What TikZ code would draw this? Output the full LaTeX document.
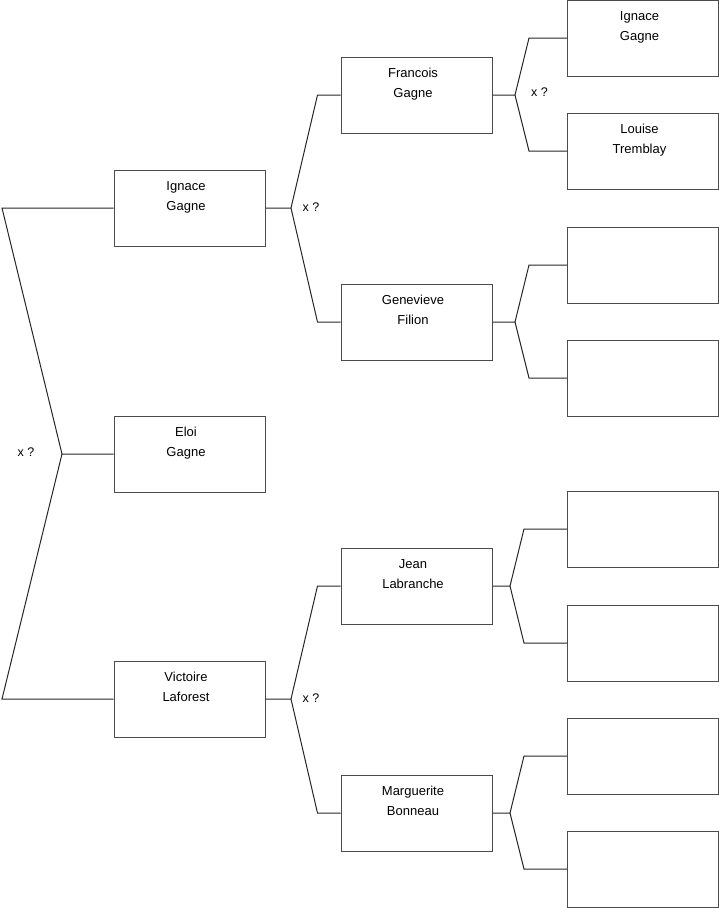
\documentclass[tikz,border=0pt]{standalone}
\usepackage{fontspec}
\setmainfont{Liberation Sans}
\newcommand\boxtext[2]{\parbox[c][76pt][t]{151pt}{\centering\vspace*{6.8pt}\hspace*{-7pt}\strut #1\\\hspace*{-7pt}\strut #2}}
\begin{document}
\begin{tikzpicture}[x=1pt,y=-1pt,
  box/.style={draw=black!70, line width=1pt, minimum width=151pt, minimum height=76pt, inner sep=0pt, fill=white,
    font=\fontsize{13}{20}\selectfont},
  conn/.style={draw=black!85, line width=1pt},
  qlab/.style={font=\fontsize{12.5}{14}\selectfont, inner sep=0pt}]
\useasboundingbox (0,0) rectangle (719,908);
% level 1
\node[box] (ig) at (189.5,208) {\boxtext{Ignace}{Gagne}};
\node[box] (el) at (189.5,454) {\boxtext{Eloi}{Gagne}};
\node[box] (vi) at (189.5,699) {\boxtext{Victoire}{Laforest}};
% level 2
\node[box] (fr) at (416.5,95) {\boxtext{Francois}{Gagne}};
\node[box] (ge) at (416.5,322) {\boxtext{Genevieve}{Filion}};
\node[box] (je) at (416.5,586) {\boxtext{Jean}{Labranche}};
\node[box] (ma) at (416.5,813) {\boxtext{Marguerite}{Bonneau}};
% level 3
\node[box] (a1) at (643,38) {\boxtext{Ignace}{Gagne}};
\node[box] (a2) at (643,151) {\boxtext{Louise}{Tremblay}};
\node[box] (a3) at (643,265) {\boxtext{}{}};
\node[box] (a4) at (643,378) {\boxtext{}{}};
\node[box] (a5) at (643,529) {\boxtext{}{}};
\node[box] (a6) at (643,643) {\boxtext{}{}};
\node[box] (a7) at (643,756) {\boxtext{}{}};
\node[box] (a8) at (643,869) {\boxtext{}{}};
% forks
\coordinate (f0) at (62,454);
\coordinate (c0a) at (2,208);
\coordinate (c0b) at (2,699);
\draw[conn] (ig.west) -- (c0a) -- (f0) -- (el.west);
\draw[conn] (f0) -- (c0b) -- (vi.west);
\node[qlab] (q0) at (26,452) {x ?};

\coordinate (f1) at (291,208);
\draw[conn] (ig.east) -- (f1) -- ([xshift=-23pt]fr.west) -- (fr.west);
\draw[conn] (f1) -- ([xshift=-23pt]ge.west) -- (ge.west);
\node[qlab] (q1) at (311,207) {x ?};

\coordinate (f2) at (291,699);
\draw[conn] (vi.east) -- (f2) -- ([xshift=-23pt]je.west) -- (je.west);
\draw[conn] (f2) -- ([xshift=-23pt]ma.west) -- (ma.west);
\node[qlab] (q2) at (311,698) {x ?};

\coordinate (f3) at (515,95);
\draw[conn] (fr.east) -- (f3) -- ([xshift=-38pt]a1.west) -- (a1.west);
\draw[conn] (f3) -- ([xshift=-38pt]a2.west) -- (a2.west);
\node[qlab] (q3) at (539.5,92) {x ?};

\coordinate (f4) at (515,322);
\draw[conn] (ge.east) -- (f4) -- ([xshift=-38pt]a3.west) -- (a3.west);
\draw[conn] (f4) -- ([xshift=-38pt]a4.west) -- (a4.west);

\coordinate (f5) at (510,586);
\draw[conn] (je.east) -- (f5) -- ([xshift=-43pt]a5.west) -- (a5.west);
\draw[conn] (f5) -- ([xshift=-43pt]a6.west) -- (a6.west);

\coordinate (f6) at (510,813);
\draw[conn] (ma.east) -- (f6) -- ([xshift=-43pt]a7.west) -- (a7.west);
\draw[conn] (f6) -- ([xshift=-43pt]a8.west) -- (a8.west);
\end{tikzpicture}
\end{document}
